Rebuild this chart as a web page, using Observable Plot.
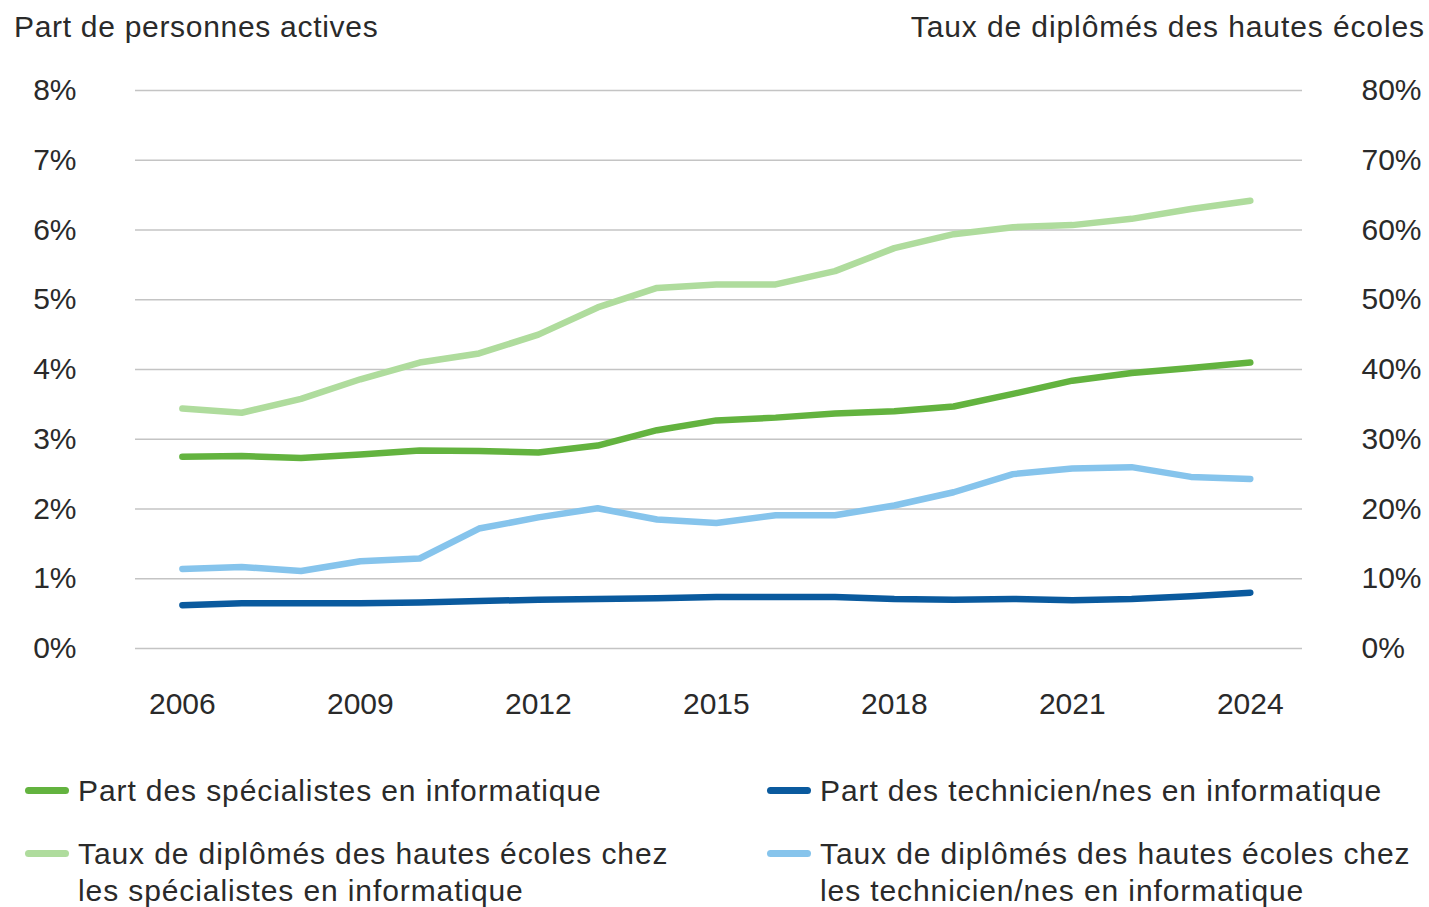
<!DOCTYPE html>
<html><head><meta charset="utf-8">
<script src="https://cdn.jsdelivr.net/npm/d3@7"></script>
<script src="https://cdn.jsdelivr.net/npm/@observablehq/plot@0.6"></script>
<style>
body{margin:0;background:#fff;font-family:"Liberation Sans",Arial,sans-serif;color:#2a2a2a;}
#wrap{position:relative;width:1429px;height:907px;overflow:hidden;background:#fff;}
.t{position:absolute;font-size:30px;line-height:37px;white-space:nowrap;letter-spacing:0.9px;}
.sw{position:absolute;width:44px;height:7px;border-radius:4px;}
#chart{position:absolute;left:0;top:0;}
</style></head>
<body><div id="wrap">
<div class="t" style="left:14px;top:8px;letter-spacing:0.7px;" id="titleLeft"></div>
<div class="t" style="right:4px;top:8px;" id="titleRight"></div>
<div id="chart"></div>
<div id="legend"></div>
</div>
<script>
const titleLeft = "Part de personnes actives";
const titleRight = "Taux de diplômés des hautes écoles";
const years = [2006,2007,2008,2009,2010,2011,2012,2013,2014,2015,2016,2017,2018,2019,2020,2021,2022,2023,2024];
const xTicks = [2006,2009,2012,2015,2018,2021,2024];
const yTicks = [0,1,2,3,4,5,6,7,8];
// left axis (% of workforce)
const specialistsShare = [2.75,2.76,2.73,2.78,2.84,2.83,2.81,2.91,3.13,3.27,3.31,3.37,3.40,3.47,3.65,3.84,3.95,4.02,4.10];
const techniciansShare = [0.62,0.65,0.65,0.65,0.66,0.68,0.70,0.71,0.72,0.74,0.74,0.74,0.71,0.70,0.71,0.69,0.71,0.75,0.80];
// right axis (% with higher-education degree)
const specialistsDegree = [34.4,33.8,35.8,38.6,41.0,42.3,45.0,48.9,51.7,52.2,52.2,54.1,57.4,59.4,60.4,60.7,61.6,63.0,64.2];
const techniciansDegree = [11.4,11.7,11.1,12.5,12.9,17.2,18.8,20.1,18.5,18.0,19.1,19.1,20.5,22.4,25.0,25.8,26.0,24.6,24.3];
const seriesNames = [
  "Part des spécialistes en informatique",
  "Part des technicien/nes en informatique",
  "Taux de diplômés des hautes écoles chez\nles spécialistes en informatique",
  "Taux de diplômés des hautes écoles chez\nles technicien/nes en informatique"
];
const seriesColors = ["#63b33f","#0a5a9e","#afdc9d","#86c4ec"];

document.getElementById("titleLeft").textContent = titleLeft;
document.getElementById("titleRight").textContent = titleRight;

const rows = [];
const add = (vals, idx, scale) => vals.forEach((v,i)=>rows.push({year:years[i], v: v/scale, s: idx}));
add(specialistsDegree, 2, 10);
add(techniciansDegree, 3, 10);
add(specialistsShare, 0, 1);
add(techniciansShare, 1, 1);

const chart = Plot.plot({
  width: 1429,
  height: 740,
  marginLeft: 135,
  marginRight: 127,
  marginTop: 90,
  marginBottom: 92,
  style: {fontFamily: "'Liberation Sans', Arial, sans-serif", fontSize: "30px", color: "#2a2a2a", background: "transparent"},
  x: {domain: [2005.21, 2024.88], label: null},
  y: {domain: [0, 8], label: null},
  marks: [
    Plot.gridY(yTicks, {stroke: "#c4c4c4", strokeOpacity: 1, strokeWidth: 1.6}),
    Plot.axisY(yTicks, {anchor: "left", tickSize: 0, tickPadding: 59, tickFormat: d => d + "%", label: null}),
    Plot.axisY(yTicks, {anchor: "right", tickSize: 0, tickPadding: 59, tickFormat: d => (d*10) + "%", textAnchor: "start", label: null}),
    Plot.axisX(xTicks, {anchor: "bottom", tickSize: 0, tickPadding: 44, tickFormat: d => String(d), label: null}),
    ...[2,3,0,1].map(k => Plot.line(rows.filter(r => r.s === k), {
      x: "year", y: "v", stroke: seriesColors[k], strokeWidth: 6.5,
      strokeLinecap: "round", strokeLinejoin: "round"
    }))
  ]
});
document.getElementById("chart").appendChild(chart);

// legend
const legend = document.getElementById("legend");
const pos = [
  {sx: 25, tx: 78, cy: 790},
  {sx: 767, tx: 820, cy: 790},
  {sx: 25, tx: 78, cy: 853},
  {sx: 767, tx: 820, cy: 853}
];
seriesNames.forEach((name, k) => {
  const p = pos[k];
  const sw = document.createElement("div");
  sw.className = "sw";
  sw.style.left = p.sx + "px";
  sw.style.top = (p.cy - 3.5) + "px";
  sw.style.background = seriesColors[k];
  legend.appendChild(sw);
  const t = document.createElement("div");
  t.className = "t";
  t.style.left = p.tx + "px";
  t.style.top = (p.cy - 18.5) + "px";
  t.style.whiteSpace = "pre";
  t.textContent = name;
  legend.appendChild(t);
});
</script>
</body></html>
